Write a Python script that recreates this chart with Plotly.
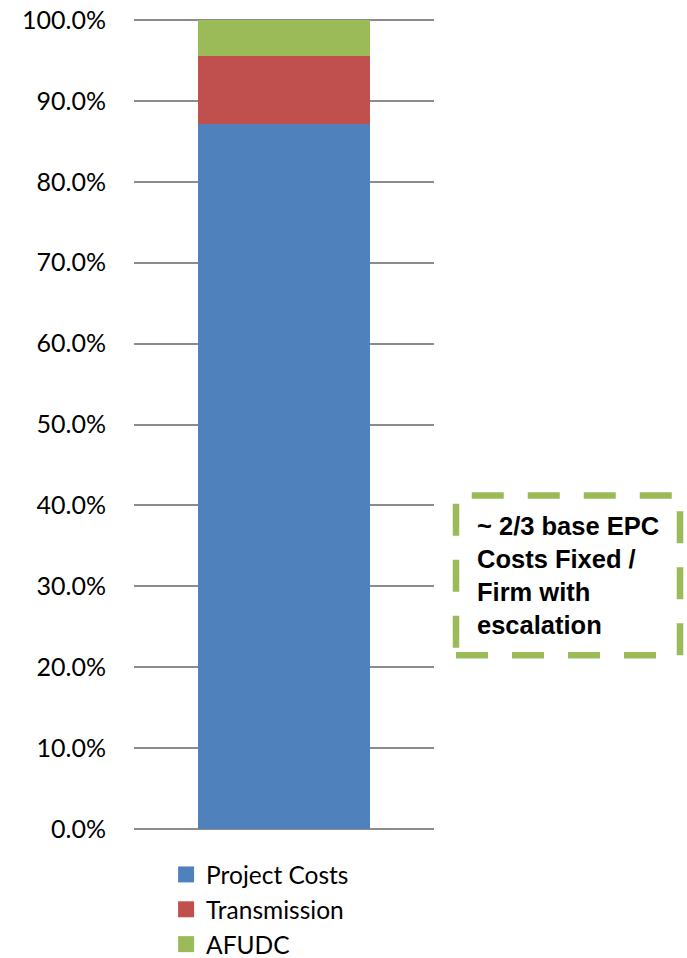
import plotly.graph_objects as go

# Share of total cost by component (single stacked column)
category = [""]
series_names = ["Project Costs", "Transmission", "AFUDC"]
project_costs = [0.871]
transmission = [0.084]
afudc = [0.045]
series_colors = ["#4F81BD", "#C0504D", "#9BBB59"]
y_ticks = [0.0, 0.1, 0.2, 0.3, 0.4, 0.5, 0.6, 0.7, 0.8, 0.9, 1.0]

note_lines = ["~ 2/3 base EPC", "Costs Fixed /", "Firm with", "escalation"]

FONT = "Lato, Carlito, sans-serif"

fig = go.Figure()
for name, vals, col in zip(series_names, [project_costs, transmission, afudc], series_colors):
    fig.add_trace(go.Bar(x=category, y=vals, name=name, showlegend=False,
                         marker=dict(color=col, line=dict(width=0))))
# Legend entries with larger square swatches
for name, col in zip(series_names, series_colors):
    fig.add_trace(go.Scatter(x=category, y=[None], name=name, mode="markers",
                             marker=dict(symbol="square", size=17, color=col),
                             hoverinfo="skip"))

W, H = 687, 958
left, right, top, bottom = 134, 253, 18, 127

fig.update_layout(
    width=W, height=H,
    margin=dict(l=left, r=right, t=top, b=bottom, pad=0, autoexpand=False),
    barmode="stack",
    bargap=0.427,
    plot_bgcolor="white",
    paper_bgcolor="white",
    font=dict(family=FONT, size=26, color="#000000"),
    showlegend=True,
    legend=dict(
        x=0.107, xanchor="left",
        yref="container", y=(H - 852) / H, yanchor="top",
        traceorder="normal",
        font=dict(family=FONT, size=24.5, color="#000000"),
        itemwidth=30,
        tracegroupgap=0,
        bgcolor="rgba(0,0,0,0)",
    ),
    xaxis=dict(showticklabels=False, showgrid=False, zeroline=False, showline=False, ticks=""),
    yaxis=dict(
        range=[-0.0025, 1.0025],
        tickvals=y_ticks,
        tickformat=".1%",
        automargin=False,
        showgrid=True, gridcolor="#8c8c8c", gridwidth=1.5,
        zeroline=False, showline=False, ticks="",
        ticklabelstandoff=27,
        tickfont=dict(family=FONT, size=25, color="#000000"),
    ),
)

# Dashed callout box to the right of the column
px_w = W - left - right
fig.add_shape(
    type="rect", xref="paper", yref="y",
    x0=(456 - left) / px_w, x1=(680 - left) / px_w,
    y0=0.2148, y1=0.4123,
    line=dict(color="#9BBB59", width=6.5, dash="32px,24px"),
    fillcolor="rgba(0,0,0,0)",
    layer="above",
)
fig.add_annotation(
    xref="paper", yref="y",
    x=(475 - left) / px_w, y=0.3136,
    xanchor="left", yanchor="middle",
    text="<br>".join("<b>" + s + "</b>" for s in note_lines),
    showarrow=False, align="left",
    font=dict(family="Liberation Sans, Arial, sans-serif", size=25.5, color="#000000"),
)

fig.write_html("out.html")
